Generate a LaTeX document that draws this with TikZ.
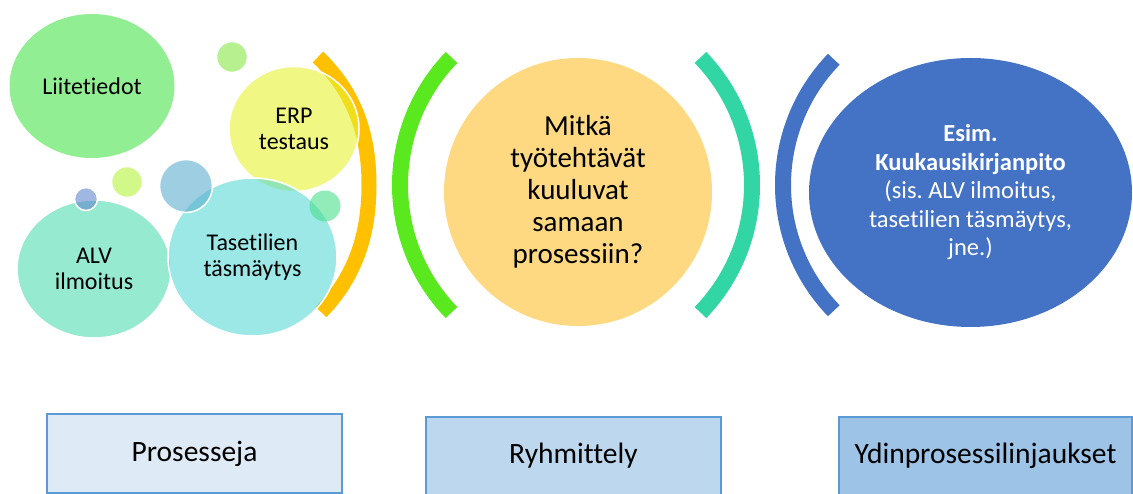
\documentclass[tikz,border=0pt]{standalone}
\usepackage{fontspec}
\setmainfont[Ligatures={NoCommon}]{Carlito}
\usetikzlibrary{shapes.geometric}
\frenchspacing
\definecolor{cOrange}{RGB}{255,192,0}
\definecolor{cLiite}{RGB}{146,238,146}
\definecolor{cAlv}{RGB}{150,234,208}
\definecolor{cErp}{RGB}{230,242,47}
\definecolor{cTase}{RGB}{88,217,213}
\definecolor{cDotGreen}{RGB}{182,240,143}
\definecolor{cDotLime}{RGB}{210,248,138}
\definecolor{cDotPurple}{RGB}{97,135,205}
\definecolor{cDotBlue}{RGB}{93,173,207}
\definecolor{cDotMint}{RGB}{73,223,140}
\definecolor{cMid}{RGB}{254,217,130}
\definecolor{cGreenBr}{RGB}{90,232,30}
\definecolor{cTealBr}{RGB}{50,214,164}
\definecolor{cBlue}{RGB}{68,114,196}
\definecolor{cBorder}{RGB}{91,155,213}
\definecolor{cBoxA}{RGB}{222,235,247}
\definecolor{cBoxB}{RGB}{189,215,238}
\definecolor{cBoxC}{RGB}{157,195,230}
\begin{document}
\begin{tikzpicture}[x=1pt,y=-1pt,
  bubble/.style={ellipse, inner sep=0pt, outer sep=0pt, draw=white, line width=1.5pt,
    align=center, text=black, font=\fontsize{24}{26.5}\selectfont},
  glass/.style={fill opacity=0.6, text opacity=1},
  dot/.style={circle, inner sep=0pt, outer sep=0pt, draw=white, line width=1.5pt},
  brk/.style={line width=16pt, line cap=butt},
  lab/.style={rectangle, draw=cBorder, line width=2pt, minimum width=295pt,
    minimum height=79pt, inner sep=0pt, font=\fontsize{29.5}{32}\selectfont}
]
\useasboundingbox (0,0) rectangle (1133,494);

% ---------- left group ----------
\coordinate (oTop) at (318,57);
\coordinate (oMid) at (369,185);
\coordinate (oBot) at (321,312);
\draw[brk, line width=15pt, cOrange] (oTop) .. controls (352,90) and (369,130) .. (oMid)
  .. controls (369,240) and (352,280) .. (oBot);

\node[bubble, fill=cLiite, draw=none, minimum width=165pt, minimum height=144pt] (liite) at (92,86) {Liitetiedot};
\node[bubble, fill=cAlv, minimum width=154pt, minimum height=138pt] (alv) at (94,269) {ALV\\ilmoitus};
\node[bubble, glass, fill=cErp, minimum width=130pt, minimum height=125pt] (erp) at (294,129) {ERP\\testaus};
\node[bubble, glass, fill=cTase, minimum width=169pt, minimum height=158pt] (tase) at (252.5,257) {Tasetilien\\täsmäytys};

\node[dot, fill=cDotGreen, minimum size=31pt] (d1) at (232,57) {};
\node[dot, fill=cDotLime, minimum size=31pt] (d2) at (127,182) {};
\node[dot, glass, fill=cDotPurple, minimum size=23pt] (d3) at (86,199) {};
\node[dot, glass, fill=cDotBlue, minimum size=53pt] (d4) at (186,186) {};
\node[dot, glass, fill=cDotMint, draw=none, minimum size=31pt] (d5) at (325,206) {};

% ---------- middle group ----------
\coordinate (gC) at (583.6,185);
\coordinate (tC) at (568.4,185);
\draw[brk, cGreenBr] ([shift={(136:183.6pt)}]gC) arc[start angle=136, end angle=224, radius=183.6pt];
\draw[brk, cTealBr] ([shift={(44:183.6pt)}]tC) arc[start angle=44, end angle=-44, radius=183.6pt];
\node[ellipse, fill=cMid, inner sep=0pt, minimum width=268pt, minimum height=268pt,
  align=center, font=\fontsize{29}{32}\selectfont] (mid) at (578,192)
  {Mitkä\\työtehtävät\\kuuluvat\\samaan\\prosessiin?};

% ---------- right group ----------
\coordinate (bC) at (964,185);
\draw[brk, cBlue] ([shift={(136:181pt)}]bC) arc[start angle=136, end angle=224, radius=181pt];
\node[ellipse, fill=cBlue, inner sep=0pt, minimum width=323pt, minimum height=269pt,
  align=center, text=white, font=\fontsize{24.5}{28.5}\selectfont] (core) at (970.5,192.5)
  {\textbf{Esim.}\\\textbf{Kuukausikirjanpito}\\(sis. ALV ilmoitus,\\tasetilien täsmäytys,\\jne.)};

% ---------- bottom labels ----------
\node[lab, fill=cBoxA] (b1) at (194.5,453.5) {Prosesseja};
\node[lab, fill=cBoxB, minimum height=78pt] (b2) at (573.5,456) {Ryhmittely};
\node[lab, fill=cBoxC, minimum width=293pt, minimum height=78pt] (b3) at (985.5,456) {Ydinprosessilinjaukset};
\end{tikzpicture}
\end{document}
